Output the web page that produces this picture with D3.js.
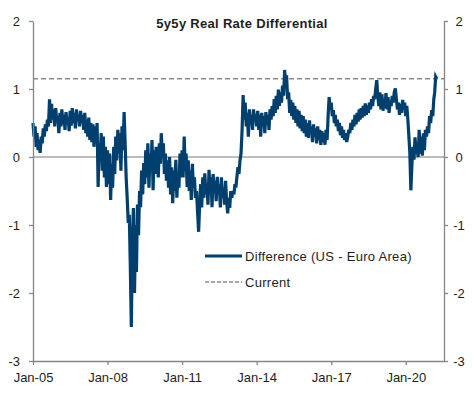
<!DOCTYPE html>
<html>
<head>
<meta charset="utf-8">
<script src="https://cdn.jsdelivr.net/npm/d3@7"></script>
<style>
  body { margin: 0; background: #fff; }
  svg { display: block; font-family: "Liberation Sans", Arial, sans-serif; }
</style>
</head>
<body>
<div id="container"></div>
<script>
// ==============
//	DATA
// ==============

// semi-monthly readings (1st and 16th of each month), 5y5y real rate US minus Euro Area
var v2005 = [0.50, 0.30, 0.45, 0.15, 0.35, 0.10, 0.25, 0.06, 0.30, 0.20, 0.42, 0.30, 0.48, 0.38, 0.55, 0.45, 0.85, 0.50, 0.78, 0.55, 0.70, 0.45, 0.72, 0.52];
var v2006 = [0.60, 0.35, 0.65, 0.45, 0.70, 0.48, 0.62, 0.40, 0.66, 0.50, 0.58, 0.38, 0.68, 0.46, 0.72, 0.50, 0.65, 0.42, 0.70, 0.55, 0.62, 0.45, 0.68, 0.50];
var v2007 = [0.62, 0.40, 0.65, 0.35, 0.55, 0.30, 0.58, 0.25, 0.50, 0.22, 0.48, 0.15, 0.45, 0.20, 0.50, -0.44, 0.20, 0.05, 0.35, -0.20, 0.30, -0.30, 0.15, -0.44];
var v2008 = [0.10, -0.40, 0.05, -0.63, -0.10, -0.45, 0.15, -0.25, 0.30, -0.05, 0.40, 0.05, 0.35, -0.20, 0.45, 0.10, 0.66, 0.20, -0.30, -0.60, -0.97, -0.85, -1.60, -2.50];
var v2009 = [-1.20, -0.75, -2.00, -1.00, -1.69, -0.70, -1.15, -0.50, -0.74, -0.20, -0.55, -0.09, -0.40, 0.10, -0.30, 0.20, -0.45, 0.05, -0.20, 0.25, -0.49, 0.10, -0.25, 0.15];
var v2010 = [0.00, -0.30, 0.20, -0.10, 0.35, 0.05, 0.20, -0.25, 0.05, -0.35, -0.05, -0.45, 0.00, -0.55, -0.15, -0.68, -0.20, -0.50, -0.04, -0.60, -0.25, -0.45, 0.05, -0.30];
var v2011 = [0.10, -0.30, 0.30, -0.20, 0.05, -0.44, -0.05, -0.50, -0.20, -0.63, -0.10, -0.45, -0.30, -0.60, -0.50, -0.80, -1.10, -0.70, -0.40, -0.74, -0.30, -0.60, -0.24, -0.55];
var v2012 = [-0.40, -0.70, -0.19, -0.55, -0.30, -0.74, -0.25, -0.50, -0.35, -0.65, -0.29, -0.55, -0.40, -0.74, -0.30, -0.60, -0.45, -0.70, -0.35, -0.65, -0.83, -0.60, -0.75, -0.50];
var v2013 = [-0.60, -0.50, -0.55, -0.40, -0.45, -0.30, -0.15, -0.25, -0.05, 0.05, 0.40, 0.91, 0.55, 0.80, 0.45, 0.65, 0.30, 0.70, 0.50, 0.62, 0.40, 0.70, 0.55, 0.63];
var v2014 = [0.45, 0.68, 0.40, 0.62, 0.30, 0.65, 0.50, 0.60, 0.35, 0.66, 0.48, 0.62, 0.40, 0.70, 0.55, 0.75, 0.60, 0.85, 0.65, 0.90, 0.70, 0.99, 0.75, 0.95];
var v2015 = [0.80, 1.05, 0.90, 1.28, 1.10, 1.20, 0.85, 0.95, 0.65, 0.84, 0.60, 0.80, 0.55, 0.75, 0.50, 0.70, 0.45, 0.68, 0.42, 0.62, 0.38, 0.60, 0.35, 0.55];
var v2016 = [0.30, 0.50, 0.28, 0.54, 0.35, 0.45, 0.22, 0.48, 0.30, 0.42, 0.20, 0.45, 0.25, 0.40, 0.18, 0.38, 0.22, 0.35, 0.18, 0.40, 0.25, 0.60, 0.88, 0.70];
var v2017 = [0.80, 0.60, 0.69, 0.50, 0.62, 0.45, 0.55, 0.38, 0.50, 0.32, 0.45, 0.28, 0.40, 0.25, 0.35, 0.22, 0.30, 0.40, 0.35, 0.50, 0.40, 0.55, 0.45, 0.62];
var v2018 = [0.48, 0.65, 0.52, 0.70, 0.55, 0.72, 0.58, 0.75, 0.60, 0.79, 0.62, 0.76, 0.65, 0.80, 0.70, 0.85, 0.75, 0.90, 0.85, 1.00, 1.13, 0.90, 0.75, 0.95];
var v2019 = [0.70, 0.92, 0.68, 0.85, 0.72, 0.94, 0.70, 0.88, 0.65, 0.82, 0.75, 0.90, 0.80, 0.95, 1.01, 0.85, 0.70, 0.80, 0.62, 0.78, 0.65, 0.84, 0.70, 0.80];
var v2020 = [0.60, 0.75, 0.55, 0.30, 0.06, -0.49, -0.10, 0.15, -0.04, 0.29, 0.05, 0.10, 0.00, 0.40, 0.05, 0.30, 0.02, 0.35, 0.10, 0.40, 0.30, 0.45, 0.35, 0.60];
var v2021 = [0.50, 0.69, 0.60, 0.85, 0.95, 1.18, 1.15];

var years = [2005, 2006, 2007, 2008, 2009, 2010, 2011, 2012, 2013, 2014, 2015, 2016, 2017, 2018, 2019, 2020, 2021];
var yearValues = [v2005, v2006, v2007, v2008, v2009, v2010, v2011, v2012, v2013, v2014, v2015, v2016, v2017, v2018, v2019, v2020, v2021];

var yTicks = [-3, -2, -1, 0, 1, 2];
var xTickYears = [2005, 2008, 2011, 2014, 2017, 2020];

var titleText = "5y5y Real Rate Differential",
	seriesLabel = "Difference (US - Euro Area)",
	currentLabel = "Current";

// ==============
//	OPTIONS
// ==============

var W = 474, H = 397,
	plot = {left: 33, right: 444, top: 21, bottom: 361};

var colLine = "#003f6e",
	colAxis = "#868686",
	colText = "#1e1e1e";

// ==============
//	DRAW
// ==============

var series = [];
years.forEach(function(yr, k) {
	yearValues[k].forEach(function(v, i) {
		series.push({date: new Date(yr, Math.floor(i / 2), i % 2 ? 16 : 1), value: v});
	});
});
var current = series[series.length - 1].value;

var x = d3.scaleTime()
	.domain([new Date(2005, 0, 1), new Date(2021, 6, 16)])
	.range([plot.left, plot.right]);

var y = d3.scaleLinear()
	.domain([-3, 2])
	.range([plot.bottom, plot.top]);

var svg = d3.select("#container").append("svg")
	.attr("width", W)
	.attr("height", H);

// zero line
svg.append("line")
	.attr("x1", plot.left).attr("x2", plot.right)
	.attr("y1", y(0)).attr("y2", y(0))
	.attr("stroke", "#a6a6a6")
	.attr("stroke-width", 1.5);

// current level (dashed)
svg.append("line")
	.attr("x1", plot.left).attr("x2", plot.right)
	.attr("y1", y(current)).attr("y2", y(current))
	.attr("stroke", "#8c8c8c")
	.attr("stroke-width", 1.5)
	.attr("stroke-dasharray", "5,3");

// === series
svg.append("path")
	.datum(series)
	.attr("fill", "none")
	.attr("stroke", colLine)
	.attr("stroke-width", 3.2)
	.attr("stroke-linejoin", "miter")
	.attr("d", d3.line().x(d => x(d.date)).y(d => y(d.value)));

// === axes
function styleAxis(g) {
	g.select(".domain").attr("stroke", colAxis).attr("stroke-width", 1.3);
	g.selectAll(".tick line").attr("stroke", colAxis).attr("stroke-width", 1.3);
	g.selectAll("text")
		.attr("fill", colText)
		.style("font-size", "13px");
}

svg.append("g")
	.attr("transform", "translate(" + plot.left + ",0)")
	.call(d3.axisLeft(y).tickValues(yTicks).tickSize(4).tickPadding(9).tickSizeOuter(0).tickFormat(d => String(d)))
	.call(styleAxis);

svg.append("g")
	.attr("transform", "translate(" + plot.right + ",0)")
	.call(d3.axisRight(y).tickValues(yTicks).tickSize(4).tickPadding(11).tickSizeOuter(0).tickFormat(d => String(d)))
	.call(styleAxis)
	.selectAll("text")
		.attr("x", 15)
		.attr("text-anchor", "middle");

svg.append("g")
	.attr("transform", "translate(0," + plot.bottom + ")")
	.call(d3.axisBottom(x).tickValues(xTickYears.map(yr => new Date(yr, 0, 1))).tickSize(4).tickPadding(8).tickSizeOuter(0).tickFormat(d3.timeFormat("%b-%y")))
	.call(styleAxis);

// === title
svg.append("text")
	.attr("x", 242)
	.attr("y", 28)
	.attr("text-anchor", "middle")
	.attr("fill", colText)
	.style("font-size", "13px")
	.style("font-weight", "bold")
	.style("letter-spacing", "0.3px")
	.text(titleText);

// === legend
var legend = svg.append("g").attr("transform", "translate(205,256)");

legend.append("line")
	.attr("x1", 0).attr("x2", 37)
	.attr("stroke", colLine)
	.attr("stroke-width", 3);

legend.append("line")
	.attr("x1", 0).attr("x2", 37)
	.attr("y1", 26).attr("y2", 26)
	.attr("stroke", "#8c8c8c")
	.attr("stroke-width", 1.3)
	.attr("stroke-dasharray", "4,2");

legend.selectAll("text")
	.data([seriesLabel, currentLabel])
	.join("text")
	.attr("x", 40)
	.attr("y", (d, i) => i * 26)
	.attr("dy", "0.35em")
	.attr("fill", colText)
	.style("font-size", "13px")
	.style("letter-spacing", "0.3px")
	.text(d => d);
</script>
</body>
</html>
